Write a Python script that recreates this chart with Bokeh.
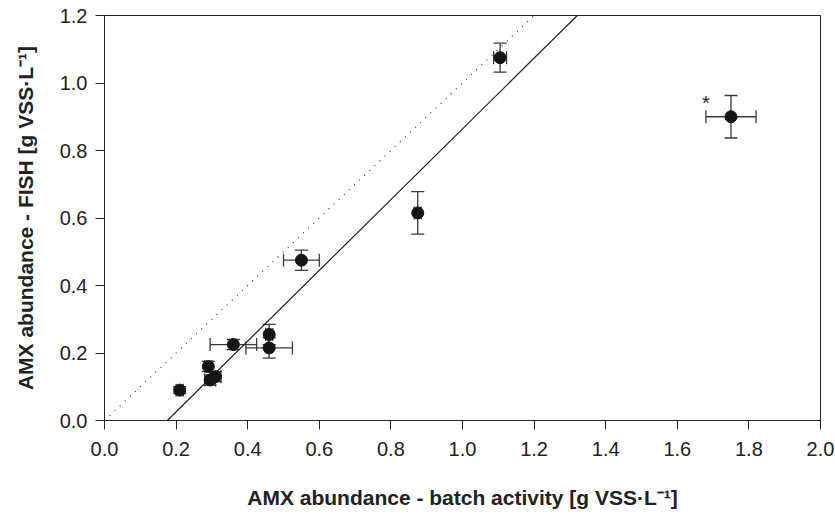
from bokeh.plotting import figure
from bokeh.models import ColumnDataSource, Whisker, TeeHead, Range1d, FixedTicker, Label, CustomJSTickFormatter
from bokeh.embed import file_html
from bokeh.resources import INLINE

# data
batch = [0.21, 0.29, 0.295, 0.31, 0.36, 0.46, 0.46, 0.55, 0.875, 1.105, 1.75]
fish = [0.09, 0.16, 0.12, 0.13, 0.225, 0.255, 0.215, 0.475, 0.615, 1.075, 0.90]
batch_err = [0.01, 0.01, 0.015, 0.015, 0.065, 0.01, 0.065, 0.05, 0.01, 0.018, 0.07]
fish_err = [0.01, 0.015, 0.015, 0.015, 0.015, 0.03, 0.03, 0.03, 0.063, 0.043, 0.063]
fit_slope = 1.048
fit_intercept = -0.184
x_ticks = [0.0, 0.2, 0.4, 0.6, 0.8, 1.0, 1.2, 1.4, 1.6, 1.8, 2.0]
y_ticks = [0.0, 0.2, 0.4, 0.6, 0.8, 1.0, 1.2]
outlier_x, outlier_y = 1.75, 0.90

src = ColumnDataSource(dict(
    x=batch, y=fish,
    xl=[a - e for a, e in zip(batch, batch_err)],
    xu=[a + e for a, e in zip(batch, batch_err)],
    yl=[a - e for a, e in zip(fish, fish_err)],
    yu=[a + e for a, e in zip(fish, fish_err)],
))

FONT = "Liberation Sans"
p = figure(width=835, height=517, frame_width=716, frame_height=405,
           output_backend="svg", toolbar_location=None,
           x_range=Range1d(0, 2.0), y_range=Range1d(0, 1.2),
           min_border_left=104, min_border_right=15, min_border_top=15,
           min_border_bottom=97)
p.background_fill_color = "white"
p.border_fill_color = "white"
p.grid.visible = False
p.outline_line_color = "#222222"
p.outline_line_width = 1

for ax in (p.xaxis[0], p.yaxis[0]):
    ax.major_label_text_font = FONT
    ax.major_label_text_font_size = "20px"
    ax.major_label_text_color = "#222222"
    ax.axis_label_text_font = FONT
    ax.axis_label_text_font_size = "21px"
    ax.axis_label_text_font_style = "bold"
    ax.axis_label_text_color = "#222222"
    ax.major_tick_in = 0
    ax.major_tick_out = 9
    ax.minor_tick_in = 0
    ax.minor_tick_out = 0
    ax.axis_line_color = "#222222"
    ax.major_tick_line_color = "#222222"

p.xaxis.ticker = FixedTicker(ticks=x_ticks)
p.yaxis.ticker = FixedTicker(ticks=y_ticks)
p.xaxis.formatter = CustomJSTickFormatter(code="return tick.toFixed(1);")
p.yaxis.formatter = CustomJSTickFormatter(code="return tick.toFixed(1);")
p.xaxis.axis_label = "AMX abundance - batch activity [g VSS·L⁻¹]"
p.yaxis.axis_label = "AMX abundance - FISH [g VSS·L⁻¹]"
p.xaxis.major_label_standoff = 12
p.xaxis.axis_label_standoff = 27
p.yaxis.major_label_standoff = 8
p.yaxis.axis_label_standoff = 20

# 1:1 line
p.line([0, 1.2], [0, 1.2], line_color="#333333", line_width=1.2, line_dash="1 6")
# regression line
x0 = -fit_intercept / fit_slope
x1 = (1.2 - fit_intercept) / fit_slope
p.line([x0, x1], [0, 1.2], line_color="#222222", line_width=1.2)

ec = "#3a3a3a"
p.add_layout(Whisker(source=src, base="x", lower="yl", upper="yu", dimension="height",
                     line_color=ec, line_width=1.3,
                     upper_head=TeeHead(size=13, line_color=ec, line_width=1.3),
                     lower_head=TeeHead(size=13, line_color=ec, line_width=1.3)))
p.add_layout(Whisker(source=src, base="y", lower="xl", upper="xu", dimension="width",
                     line_color=ec, line_width=1.3,
                     upper_head=TeeHead(size=13, line_color=ec, line_width=1.3),
                     lower_head=TeeHead(size=13, line_color=ec, line_width=1.3)))

p.scatter("x", "y", source=src, size=12, fill_color="#141414", line_color="#141414")

p.add_layout(Label(x=outlier_x, y=outlier_y, x_offset=-29, y_offset=3, text="*",
                   text_font=FONT, text_font_size="20px", text_color="#222222"))

open("out.html", "w").write(file_html(p, INLINE))
